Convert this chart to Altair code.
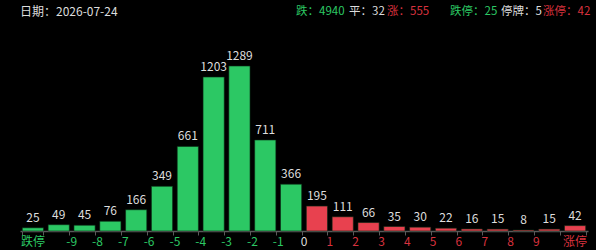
import altair as alt
import pandas as pd

# data
categories = ["跌停", "-9", "-8", "-7", "-6", "-5", "-4", "-3", "-2", "-1", "-0",
              "+0", "1", "2", "3", "4", "5", "6", "7", "8", "9", "涨停"]
values = [25, 49, 45, 76, 166, 349, 661, 1203, 1289, 711, 366,
          195, 111, 66, 35, 30, 22, 16, 15, 8, 15, 42]
sides = ["down"] * 11 + ["up"] * 11

# tick labels placed at band boundaries (label text, category whose band starts there, side)
edge_labels = ["-9", "-8", "-7", "-6", "-5", "-4", "-3", "-2", "-1", "0",
               "1", "2", "3", "4", "5", "6", "7", "8", "9"]
edge_at = categories[2:21]
edge_side = ["down"] * 9 + ["flat"] + ["up"] * 9
# labels centred on a bar
center_labels = ["跌停", "涨停"]
center_at = ["跌停", "涨停"]
center_side = ["down", "up"]

date_text = "日期：2026-07-24"
header_names = ["跌", "平", "涨", "跌停", "停牌", "涨停"]
header_values = [4940, 32, 555, 25, 5, 42]
header_side = ["down", "flat", "up", "down", "flat", "up"]

GREEN = "#2cc864"
RED = "#e8414f"
RED_TXT = "#d8323e"
WHITE = "#dddddd"
FONT = "Noto Sans CJK SC"

bars_df = pd.DataFrame({"cat": categories, "v": values, "side": sides})
edge_df = pd.DataFrame({"cat": edge_at, "label": edge_labels, "side": edge_side})
center_df = pd.DataFrame({"cat": center_at, "label": center_labels, "side": center_side})
header_df = pd.DataFrame({
    "label": [f"{n}：{v}" for n, v in zip(header_names, header_values)],
    "side": header_side,
    "px": [276, 329, 367, 430, 481, 523],
})

W, H = 568, 192
xscale = alt.Scale(domain=categories, paddingInner=0.18, paddingOuter=0.09)
color_scale = alt.Scale(domain=["down", "up", "flat"], range=[GREEN, RED, WHITE])
txt_scale = alt.Scale(domain=["down", "up", "flat"], range=[GREEN, RED_TXT, WHITE])

base = alt.Chart(bars_df)

bars = base.mark_bar(stroke="#0a2a14", strokeWidth=0.6).encode(
    x=alt.X("cat:N", scale=xscale, sort=categories,
            axis=alt.Axis(labels=False, title=None, tickBand="extent",
                          domainColor="#5a5a5a", tickColor="#5a5a5a",
                          tickSize=4, domainWidth=1.5)),
    y=alt.Y("v:Q", scale=alt.Scale(domain=[0, 1500]), axis=None),
    color=alt.Color("side:N", scale=color_scale, legend=None),
)

vals = base.mark_text(dy=-6, baseline="alphabetic", font=FONT, fontSize=12,
                      color=WHITE).encode(
    x=alt.X("cat:N", scale=xscale, sort=categories),
    y=alt.Y("v:Q", scale=alt.Scale(domain=[0, 1500])),
    text="v:Q",
)

edge_txt = alt.Chart(edge_df).mark_text(font=FONT, fontSize=12, baseline="middle",
                                        xOffset=-2.3).encode(
    x=alt.X("cat:N", scale=xscale, sort=categories, bandPosition=0),
    y=alt.value(H + 11),
    text="label:N",
    color=alt.Color("side:N", scale=txt_scale, legend=None),
)

center_txt = alt.Chart(center_df).mark_text(font=FONT, fontSize=12, baseline="middle").encode(
    x=alt.X("cat:N", scale=xscale, sort=categories),
    y=alt.value(H + 11),
    text="label:N",
    color=alt.Color("side:N", scale=txt_scale, legend=None),
)

date_mark = alt.Chart(pd.DataFrame({"label": [date_text]})).mark_text(
    font=FONT, fontSize=12, align="left", baseline="middle", color=WHITE
).encode(x=alt.value(0), y=alt.value(-27), text="label:N")

header = alt.Chart(header_df).mark_text(
    font=FONT, fontSize=11.5, align="left", baseline="middle"
).encode(
    x=alt.X("px:Q", scale=None),
    y=alt.value(-27),
    text="label:N",
    color=alt.Color("side:N", scale=txt_scale, legend=None),
)

chart = alt.layer(bars, vals, edge_txt, center_txt, date_mark, header).properties(
    width=W, height=H,
    autosize=alt.AutoSizeParams(type="none"),
    padding={"left": 20, "top": 39, "right": 8, "bottom": 19},
    background="#000000",
).configure_view(stroke=None).resolve_scale(color="independent")

chart.save("out.html", embed_options={"renderer": "svg", "actions": False})
